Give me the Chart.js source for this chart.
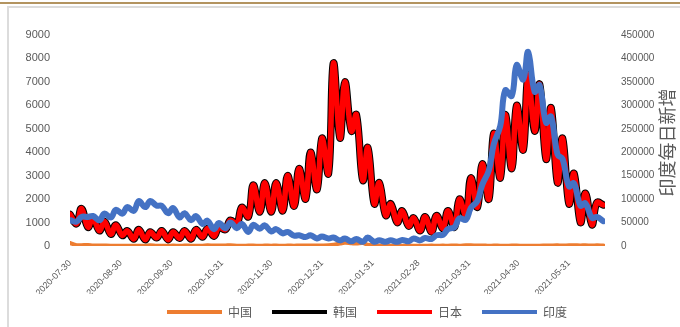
<!DOCTYPE html>
<html>
<head>
<meta charset="utf-8">
<script src="https://cdn.jsdelivr.net/npm/chart.js@4.4.0/dist/chart.umd.min.js"></script>
<style>
  html, body { margin: 0; padding: 0; background: #fff; }
  #wrap { position: relative; width: 680px; height: 327px; overflow: hidden; }
  .topline { position: absolute; left: 0; top: 2px; width: 680px; height: 2px; background: #b39460; }
  .frame { position: absolute; left: 7px; top: 6px; right: -2px; bottom: -2px; border-top: 2px solid #dcdcdc; border-left: 2px solid #dcdcdc; }
  canvas { position: absolute; left: 0; top: 0; }
</style>
</head>
<body>
<div id="wrap">
  <div class="topline"></div>
  <div class="frame"></div>
  <canvas id="chart" width="680" height="327"></canvas>
</div>
<script>
// x = days since 2020-07-30, ticks at these days
const tickDays = [0, 31, 62, 93, 123, 154, 185, 213, 244, 274, 305];
const tickLabels = ['2020-07-30', '2020-08-30', '2020-09-30', '2020-10-31', '2020-11-30', '2020-12-31',
  '2021-01-31', '2021-02-28', '2021-03-31', '2021-04-30', '2021-05-31'];

// values, one every 3.5 days (Thursday, Monday, ...)
const china = [127, 36, 37, 44, 19, 22, 20, 16, 9, 10,
  10, 10, 12, 10, 32, 10, 12, 12, 19, 11,
  20, 13, 13, 13, 28, 20, 25, 24, 33, 16,
  13, 16, 17, 15, 17, 15, 17, 11, 20, 15,
  24, 23, 19, 24, 25, 33, 53, 103, 138, 118,
  103, 124, 55, 42, 17, 14, 14, 7, 9, 8,
  10, 8, 11, 17, 13, 18, 12, 21, 14, 31,
  32, 18, 26, 10, 21, 12, 12, 18, 20, 11,
  12, 15, 10, 22, 25, 27, 22, 30, 31, 26,
  29, 21, 28, 23];

// the black 韩国 line lies right under 日本 in the picture
const korea = [1350, 950, 1600, 800, 1200, 650, 1050, 500, 900, 450,
  650, 300, 700, 270, 600, 350, 650, 270, 600, 330,
  650, 300, 700, 380, 750, 420, 800, 700, 1100, 950,
  1650, 1250, 2600, 1450, 2700, 1450, 2700, 1500, 3000, 1700,
  3300, 2000, 4000, 2400, 4600, 3100, 7800, 4600, 7000, 4900,
  5600, 2800, 4200, 1800, 2700, 1300, 1800, 1000, 1500, 850,
  1200, 650, 1250, 600, 1300, 750, 1500, 800, 2000, 1300,
  2900, 1650, 3500, 2000, 4800, 2900, 5600, 3300, 6000, 4100,
  7300, 4900, 6900, 3700, 5900, 2700, 4600, 1800, 3100, 1000,
  2250, 900, 1850, 1750];

const japan = [1350, 950, 1600, 800, 1200, 650, 1050, 500, 900, 450,
  650, 300, 700, 270, 600, 350, 650, 270, 600, 330,
  650, 300, 700, 380, 750, 420, 800, 700, 1100, 950,
  1650, 1250, 2600, 1450, 2700, 1450, 2700, 1500, 3000, 1700,
  3300, 2000, 4000, 2400, 4600, 3100, 7800, 4600, 7000, 4900,
  5600, 2800, 4200, 1800, 2700, 1300, 1800, 1000, 1500, 850,
  1200, 650, 1250, 600, 1300, 750, 1500, 800, 2000, 1300,
  2900, 1650, 3500, 2000, 4800, 2900, 5600, 3300, 6000, 4100,
  7300, 4900, 6900, 3700, 5900, 2700, 4600, 1800, 3100, 1000,
  2250, 900, 1850, 1750];

const india = [55000, 52000, 62000, 62000, 64000, 55000, 69000, 61000, 77000, 69000,
  83000, 75000, 96000, 83000, 96000, 86000, 86000, 70000, 81000, 61000,
  70000, 55000, 64000, 47000, 54000, 36000, 49000, 38000, 50000, 38000,
  47000, 30000, 45000, 37000, 44000, 31000, 36000, 27000, 30000, 22000,
  23000, 19000, 23000, 16000, 20000, 16000, 18000, 12000, 16000, 10000,
  15000, 9000, 18000, 9000, 12000, 9000, 12000, 9000, 13000, 10000,
  16000, 12000, 17000, 15000, 23000, 24000, 36000, 40000, 59000, 56000,
  81000, 96000, 131000, 161000, 217000, 256000, 332000, 320000, 386000, 355000,
  414000, 329000, 343000, 263000, 276000, 195000, 186000, 127000, 134000, 86000,
  91000, 60000, 62000, 53000];

function toPoints(vals) {
  return vals.map((v, i) => ({ x: Math.round(i * 3.5), y: v }));
}

const grey = '#595959';
const numFont = '"Liberation Sans", Arial, sans-serif';
const cjkFont = '"Noto Sans CJK SC", sans-serif';

// vertical title on the right, reads bottom to top
const sideTitle = {
  id: 'sideTitle',
  afterDraw(chart) {
    const { ctx, chartArea } = chart;
    ctx.save();
    ctx.translate(chart.width - 13, (chartArea.top + chartArea.bottom) / 2 + 2);
    ctx.rotate(-Math.PI / 2);
    ctx.font = '18px ' + cjkFont;
    ctx.fillStyle = grey;
    ctx.textAlign = 'center';
    ctx.textBaseline = 'middle';
    ctx.fillText('印度每日新增', 0, 0);
    ctx.restore();
  }
};

// nudge the legend to where it sits in the picture
const legendShift = {
  id: 'legendShift',
  afterLayout(chart) {
    const lg = chart.legend;
    lg.left += 27;
    lg.right += 27;
    const dy = 286 - lg.top;
    lg.top += dy;
    lg.bottom += dy;
  }
};

const line = (label, data, color, width, axis) => ({
  label: label,
  data: toPoints(data),
  yAxisID: axis,
  borderColor: color,
  backgroundColor: color,
  borderWidth: width,
  pointRadius: 0,
  tension: 0.4,
  borderCapStyle: 'round',
  borderJoinStyle: 'round',
  fill: false
});

new Chart('chart', {
  type: 'line',
  data: {
    // first one is drawn on top
    datasets: [
      line('印度', india, '#4472C4', 6, 'y1'),
      line('日本', japan, '#FF0000', 5.5, 'y'),
      line('韩国', korea, '#000000', 7.5, 'y'),
      line('中国', china, '#ED7D31', 4, 'y')
    ]
  },
  options: {
    responsive: false,
    animation: false,
    layout: { padding: { top: 35, left: 0, right: 0, bottom: 0 } },
    plugins: {
      tooltip: { enabled: false },
      legend: {
        position: 'bottom',
        maxHeight: 33,
        labels: {
          color: grey,
          font: { family: cjkFont, size: 12 },
          boxWidth: 55,
          boxHeight: 4,
          padding: 20,
          sort: (a, b) => b.datasetIndex - a.datasetIndex,
          generateLabels(chart) {
            return Chart.defaults.plugins.legend.labels.generateLabels(chart).map(it => {
              it.fillStyle = it.strokeStyle;
              it.lineWidth = 0;
              return it;
            });
          }
        }
      }
    },
    scales: {
      x: {
        type: 'linear',
        min: 0,
        max: 327,
        grid: { display: false },
        border: { display: false },
        afterBuildTicks(s) {
          s.ticks = tickDays.map(v => ({ value: v }));
        },
        afterFit(s) {
          s.height = 327 - 246 - s.chart.legend.height;
        },
        ticks: {
          autoSkip: false,
          minRotation: 45,
          maxRotation: 45,
          padding: 4,
          color: grey,
          font: { family: numFont, size: 9 },
          callback: v => tickLabels[tickDays.indexOf(v)]
        }
      },
      y: {
        position: 'left',
        min: 0,
        max: 9000,
        grid: { display: false },
        border: { display: false },
        afterFit(s) { s.width = 70; },
        ticks: {
          stepSize: 1000,
          padding: 12,
          color: grey,
          font: { family: numFont, size: 11 },
          callback: v => String(v)
        }
      },
      y1: {
        position: 'right',
        min: 0,
        max: 450000,
        grid: { display: false },
        border: { display: false },
        afterFit(s) { s.width = 75; },
        ticks: {
          stepSize: 50000,
          padding: 8,
          color: grey,
          font: { family: numFont, size: 10 },
          callback: v => String(v)
        }
      }
    }
  },
  plugins: [sideTitle, legendShift]
});
</script>
</body>
</html>
